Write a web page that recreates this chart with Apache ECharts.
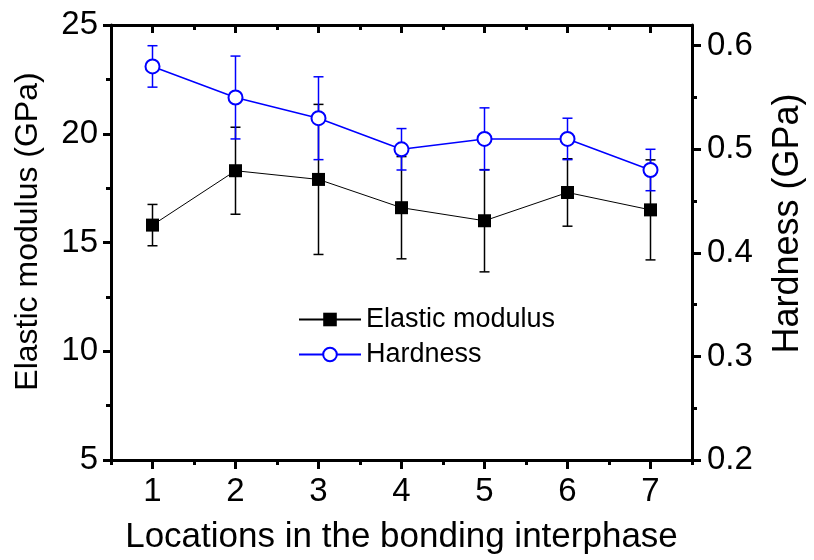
<!DOCTYPE html>
<html>
<head>
<meta charset="utf-8">
<script src="https://cdn.jsdelivr.net/npm/echarts@6/dist/echarts.min.js"></script>
<style>
  html, body { margin: 0; padding: 0; background: #fff; }
  #chart { width: 814px; height: 560px; }
</style>
</head>
<body>
<div id="chart"></div>
<script>
// data
const locations = [1, 2, 3, 4, 5, 6, 7];
const modulus = [15.8, 18.3, 17.9, 16.6, 16.0, 17.3, 16.5];
const modulusErr = [0.95, 2.0, 3.45, 2.35, 2.35, 1.55, 2.3];
const hardness = [0.58, 0.55, 0.53, 0.50, 0.51, 0.51, 0.48];
const hardnessErr = [0.02, 0.04, 0.04, 0.02, 0.03, 0.02, 0.02];

// tick positions
const xMinorTicks = [0.5, 1.5, 2.5, 3.5, 4.5, 5.5, 6.5, 7.5];
const hardTicks = [0.2, 0.3, 0.4, 0.5, 0.6];
const hardMinorTicks = [0.25, 0.35, 0.45, 0.55];

const FONT = 'Liberation Sans, Arial, sans-serif';
const BLUE = '#0000ff';
const AXIS_W = 3;

const chart = echarts.init(document.getElementById('chart'));

function errorBars(idx, color) {
  return {
    type: 'custom',
    xAxisIndex: 0,
    yAxisIndex: idx === 0 ? 0 : 1,
    z: idx === 0 ? 2 : 4,
    silent: true,
    data: locations.map((x, i) => idx === 0
      ? [x, modulus[i] - modulusErr[i], modulus[i] + modulusErr[i]]
      : [x, hardness[i] - hardnessErr[i], hardness[i] + hardnessErr[i]]),
    renderItem: (params, api) => {
      const lo = api.coord([api.value(0), api.value(1)]);
      const hi = api.coord([api.value(0), api.value(2)]);
      const half = 5;
      const style = { stroke: color, lineWidth: 1.5 };
      return {
        type: 'group',
        children: [
          { type: 'line', shape: { x1: lo[0], y1: lo[1], x2: hi[0], y2: hi[1] }, style },
          { type: 'line', shape: { x1: lo[0] - half, y1: lo[1], x2: lo[0] + half, y2: lo[1] }, style },
          { type: 'line', shape: { x1: hi[0] - half, y1: hi[1], x2: hi[0] + half, y2: hi[1] }, style }
        ]
      };
    }
  };
}

const axisLineStyle = { color: '#000', width: AXIS_W };

chart.setOption({
  animation: false,
  backgroundColor: '#fff',
  textStyle: { fontFamily: FONT, color: '#000' },
  grid: { left: 111, right: 109, top: 25, bottom: 97 },
  legend: {
    orient: 'vertical',
    left: 293,
    top: 301,
    itemWidth: 62,
    itemHeight: 17,
    itemGap: 8,
    textStyle: { fontSize: 27, fontFamily: FONT, color: '#000' },
    data: ['Elastic modulus', 'Hardness']
  },
  xAxis: [
    {
      type: 'value', position: 'bottom', min: 0.5, max: 7.5,
      axisLine: { show: true, lineStyle: axisLineStyle },
      axisTick: { show: true, customValues: locations, length: 9, lineStyle: axisLineStyle },
      axisLabel: { customValues: locations, fontSize: 33, margin: 15, color: '#000', fontFamily: FONT },
      splitLine: { show: false },
      name: 'Locations in the bonding interphase',
      nameLocation: 'middle',
      nameGap: 60,
      nameTextStyle: { fontSize: 35, fontFamily: FONT, color: '#000' }
    },
    {
      type: 'value', position: 'bottom', min: 0.5, max: 7.5,
      axisLine: { show: false },
      axisTick: { show: true, customValues: xMinorTicks, length: 5, lineStyle: axisLineStyle },
      axisLabel: { show: false },
      splitLine: { show: false }
    },
    {
      type: 'value', position: 'top', min: 0.5, max: 7.5,
      axisLine: { show: true, lineStyle: axisLineStyle },
      axisTick: { show: true, inside: true, customValues: locations, length: 8, lineStyle: axisLineStyle },
      axisLabel: { show: false },
      splitLine: { show: false }
    },
    {
      type: 'value', position: 'top', min: 0.5, max: 7.5,
      axisLine: { show: false },
      axisTick: { show: true, inside: true, customValues: xMinorTicks, length: 5, lineStyle: axisLineStyle },
      axisLabel: { show: false },
      splitLine: { show: false }
    }
  ],
  yAxis: [
    {
      type: 'value', position: 'left', min: 5, max: 25, interval: 5,
      axisLine: { show: true, lineStyle: axisLineStyle },
      axisTick: { show: true, length: 8, lineStyle: axisLineStyle },
      minorTick: { show: true, splitNumber: 2, length: 5, lineStyle: axisLineStyle },
      axisLabel: { fontSize: 33, margin: 13, color: '#000', fontFamily: FONT },
      splitLine: { show: false },
      name: 'Elastic modulus (GPa)',
      nameLocation: 'middle',
      nameRotate: 90,
      nameGap: 67,
      nameTextStyle: { fontSize: 32, fontFamily: FONT, color: '#000', padding: [0, 0, 0, 22] }
    },
    {
      type: 'value', position: 'right', min: 0.2, max: 0.62,
      axisLine: { show: true, lineStyle: axisLineStyle },
      axisTick: { show: true, customValues: hardTicks, length: 9, lineStyle: axisLineStyle },
      axisLabel: {
        customValues: hardTicks, fontSize: 33, margin: 15, color: '#000', fontFamily: FONT,
        formatter: v => v.toFixed(1)
      },
      splitLine: { show: false },
      name: 'Hardness (GPa)',
      nameLocation: 'middle',
      nameRotate: 90,
      nameGap: 78,
      nameTextStyle: { fontSize: 36, fontFamily: FONT, color: '#000', padding: [0, 0, 0, 38] }
    },
    {
      type: 'value', position: 'right', min: 0.2, max: 0.62,
      axisLine: { show: false },
      axisTick: { show: true, customValues: hardMinorTicks, length: 5, lineStyle: axisLineStyle },
      axisLabel: { show: false },
      splitLine: { show: false }
    }
  ],
  series: [
    errorBars(0, '#000'),
    {
      name: 'Elastic modulus',
      type: 'line',
      xAxisIndex: 0,
      yAxisIndex: 0,
      z: 3,
      data: locations.map((x, i) => [x, modulus[i]]),
      symbol: 'rect',
      symbolSize: 13,
      lineStyle: { color: '#000', width: 1 },
      itemStyle: { color: '#000' }
    },
    errorBars(1, BLUE),
    {
      name: 'Hardness',
      type: 'line',
      xAxisIndex: 0,
      yAxisIndex: 1,
      z: 5,
      data: locations.map((x, i) => [x, hardness[i]]),
      symbol: 'emptyCircle',
      symbolSize: 14,
      lineStyle: { color: BLUE, width: 1.5 },
      itemStyle: { color: BLUE, borderColor: BLUE, borderWidth: 1.5 }
    }
  ]
});
</script>
</body>
</html>
